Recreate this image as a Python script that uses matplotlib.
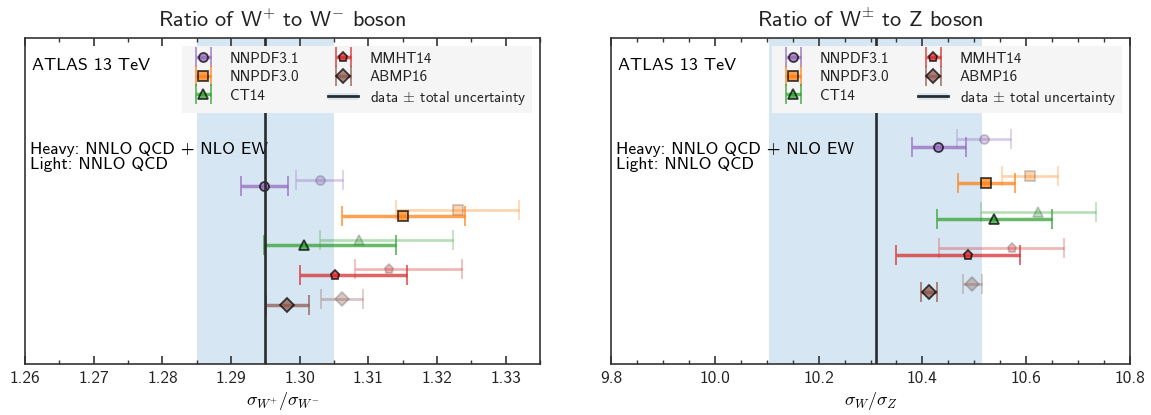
import matplotlib
matplotlib.use("Agg")
import matplotlib.pyplot as plt
import numpy as np
from matplotlib.legend_handler import HandlerBase
from matplotlib.patches import Rectangle
from matplotlib.lines import Line2D
from matplotlib.ticker import MultipleLocator, FormatStrFormatter

plt.rcParams['font.family'] = ['cmss10', 'DejaVu Sans']
plt.rcParams['mathtext.fontset'] = 'cm'
plt.rcParams['axes.unicode_minus'] = False

# ---------------- data ----------------
pdf_sets = ['NNPDF3.1', 'NNPDF3.0', 'CT14', 'MMHT14', 'ABMP16']
pdf_colors = ['#9467bd', '#ff7f0e', '#2ca02c', '#d62728', '#8c564b']
pdf_markers = ['o', 's', '^', 'p', 'D']
pdf_msizes = [6.5, 6.5, 7.5, 6.5, 7.5]

# W+/W- ratio
wpwm_heavy = [1.2948, 1.3151, 1.3006, 1.3051, 1.2981]
wpwm_heavy_lo = [0.0033, 0.0090, 0.0058, 0.0050, 0.0030]
wpwm_heavy_hi = [0.0035, 0.0090, 0.0135, 0.0106, 0.0032]
wpwm_light = [1.3029, 1.3230, 1.3087, 1.3130, 1.3061]
wpwm_light_lo = [0.0034, 0.0089, 0.0057, 0.0050, 0.0030]
wpwm_light_hi = [0.0034, 0.0090, 0.0136, 0.0106, 0.0031]
wpwm_data = 1.2950
wpwm_data_unc = 0.0100

# W/Z ratio
wz_heavy = [10.430, 10.523, 10.538, 10.488, 10.413]
wz_heavy_lo = [0.051, 0.054, 0.109, 0.139, 0.016]
wz_heavy_hi = [0.054, 0.055, 0.111, 0.100, 0.016]
wz_light = [10.518, 10.608, 10.622, 10.572, 10.496]
wz_light_lo = [0.051, 0.055, 0.110, 0.140, 0.017]
wz_light_hi = [0.053, 0.054, 0.112, 0.100, 0.018]
wz_data = 10.310
wz_data_unc = 0.205

titles = [r'Ratio of W$^{+}$ to W$^{-}$ boson', r'Ratio of W$^{\pm}$ to Z boson']
xlabels = [r'$\sigma_{W^{+}}/\sigma_{W^{-}}$', r'$\sigma_{W}/\sigma_{Z}$']

band_color = '#d6e6f2'
line_color = '#2b2b2b'


class HandlerData(HandlerBase):
    def create_artists(self, legend, orig_handle, xdescent, ydescent,
                       width, height, fontsize, trans):
        x0 = -xdescent
        y0 = -ydescent
        r = Rectangle((x0, y0 + 0.2 * height), width, 0.6 * height,
                      facecolor=band_color, edgecolor='none', transform=trans)
        l = Line2D([x0, x0 + width], [y0 + height / 2] * 2, color=line_color,
                   lw=2.0, transform=trans)
        return [r, l]


fig = plt.figure(figsize=(11.51, 4.15), dpi=100)
W, H = 1151, 415
ax1 = fig.add_axes([25 / W, 1 - 364 / H, 515 / W, 326 / H])
ax2 = fig.add_axes([611 / W, 1 - 364 / H, 519 / W, 326 / H])

panels = [
    (ax1, wpwm_heavy, wpwm_heavy_lo, wpwm_heavy_hi, wpwm_light, wpwm_light_lo,
     wpwm_light_hi, wpwm_data, wpwm_data_unc, (1.26, 1.335), 11.0, 0.01, 0.005, '%.2f'),
    (ax2, wz_heavy, wz_heavy_lo, wz_heavy_hi, wz_light, wz_light_lo,
     wz_light_hi, wz_data, wz_data_unc, (9.8, 10.8), 9.0, 0.2, 0.05, '%.1f'),
]

for i, (ax, hv, hlo, hhi, lv, llo, lhi, dv, du, xlim, ytop, maj, mnr, fmt) in enumerate(panels):
    ypos = np.arange(len(pdf_sets))[::-1] + 2.0
    ax.axvspan(dv - du, dv + du, color=band_color, lw=0, zorder=0)
    ax.axvline(dv, color=line_color, lw=1.9, zorder=5)
    handles = []
    for k, name in enumerate(pdf_sets):
        c = pdf_colors[k]
        ax.errorbar([lv[k]], [ypos[k] + 0.2], xerr=[[llo[k]], [lhi[k]]],
                    fmt=pdf_markers[k], ms=pdf_msizes[k], color=c, mfc=c,
                    mec='#555555', mew=1.2, elinewidth=2.0, capsize=7,
                    capthick=1.5, alpha=0.33, zorder=2)
        eb = ax.errorbar([hv[k]], [ypos[k]], xerr=[[hlo[k]], [hhi[k]]],
                         fmt=pdf_markers[k], ms=pdf_msizes[k], color=c, mfc=c,
                         mec='black', mew=1.3, elinewidth=2.5, capsize=7,
                         capthick=1.5, alpha=0.72, zorder=3, label=name)
        handles.append(eb)
    data_handle = Rectangle((0, 0), 1, 1)
    order = [handles[0], handles[1], handles[2], handles[3], handles[4], data_handle]
    labels = pdf_sets + [r'data $\pm$ total uncertainty']
    leg = ax.legend(order, labels, ncol=2, loc='upper right', fontsize=10.9,
                    frameon=True, fancybox=False, facecolor='#f5f5f5',
                    edgecolor='none', framealpha=1.0, labelspacing=0.3,
                    columnspacing=1.9, handletextpad=0.75,
                    handler_map={Rectangle: HandlerData()})
    leg.set_zorder(10)
    for t in leg.get_texts():
        t.set_color('#222222')

    ax.text(0.014, 0.915, 'ATLAS 13 TeV', transform=ax.transAxes, fontsize=13,
            ha='left', va='center')
    ax.text(0.010, 0.68, 'Heavy: NNLO QCD + NLO EW\nLight: NNLO QCD',
            transform=ax.transAxes, fontsize=12.6, ha='left', va='top',
            linespacing=0.95)

    ax.set_xlim(*xlim)
    ax.set_ylim(0, ytop)
    ax.set_yticks([])
    ax.xaxis.set_major_locator(MultipleLocator(maj))
    ax.xaxis.set_minor_locator(MultipleLocator(mnr))
    ax.xaxis.set_major_formatter(FormatStrFormatter(fmt))
    ax.tick_params(axis='x', which='both', direction='in', top=True, bottom=True,
                   labelsize=12.5, pad=5, color='#333333', labelcolor='#222222')
    ax.tick_params(axis='x', which='major', length=6, width=1.2)
    ax.tick_params(axis='x', which='minor', length=3, width=1.0)
    for s in ax.spines.values():
        s.set_color('#333333')
        s.set_linewidth(1.2)
    ax.set_title(titles[i], fontsize=16, pad=8, color='#222222')
    ax.set_xlabel(xlabels[i], fontsize=13, labelpad=3)

fig.savefig('out.png', dpi=100)
